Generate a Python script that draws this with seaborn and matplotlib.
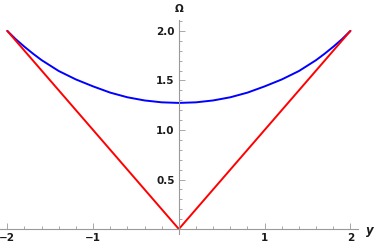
import matplotlib
matplotlib.use("Agg")
import matplotlib.pyplot as plt
from matplotlib.ticker import MultipleLocator, FixedLocator
import seaborn as sns
import pandas as pd

# values
y_vals = [-2.0, -1.9, -1.8, -1.7, -1.6, -1.4, -1.2, -1.0, -0.8, -0.6, -0.4, -0.2, 0.0,
          0.2, 0.4, 0.6, 0.8, 1.0, 1.2, 1.4, 1.6, 1.7, 1.8, 1.9, 2.0]
omega_vals = [2.0, 1.915, 1.84, 1.77, 1.705, 1.595, 1.51, 1.44, 1.377, 1.33, 1.298, 1.279, 1.273,
              1.279, 1.298, 1.33, 1.377, 1.44, 1.51, 1.595, 1.705, 1.77, 1.84, 1.915, 2.0]
abs_y = [-2.0, 0.0, 2.0]
abs_omega = [2.0, 0.0, 2.0]

x_ticks = [-2, -1, 1, 2]
y_ticks = [0.5, 1.0, 1.5, 2.0]

sns.set_theme(style="white")
plt.rcParams['font.family'] = ['DejaVu Sans']

fig = plt.figure(figsize=(3.74, 2.47), dpi=100)
ax = fig.add_axes([0.0, 13.5 / 247, 357.7 / 374, 213.5 / 247])

curve = pd.DataFrame({"y": y_vals, "omega": omega_vals})
vline = pd.DataFrame({"y": abs_y, "omega": abs_omega})
sns.lineplot(data=curve, x="y", y="omega", color=(0, 0, 1), lw=1.4, ax=ax)
sns.lineplot(data=vline, x="y", y="omega", color=(1, 0, 0), lw=1.4, ax=ax)

ax.set_xlim(-2.085, 2.085)
ax.set_ylim(-0.045, 2.11)

# axes through origin, mathematica style
for s in ["top", "right"]:
    ax.spines[s].set_visible(False)
for s in ["left", "bottom"]:
    ax.spines[s].set_position(("data", 0))
    ax.spines[s].set_color("#9a9a9a")
    ax.spines[s].set_linewidth(0.8)

ax.xaxis.set_major_locator(FixedLocator(x_ticks))
ax.yaxis.set_major_locator(FixedLocator(y_ticks))
ax.xaxis.set_minor_locator(MultipleLocator(0.2))
ax.yaxis.set_minor_locator(MultipleLocator(0.1))
ax.set_xticklabels([f"{t:d}".replace("-", "\u2212") for t in x_ticks])
ax.set_yticklabels([f"{t:.1f}" for t in y_ticks])
ax.tick_params(which="both", direction="in", color="#9a9a9a", width=0.6,
               labelsize=7.5, labelcolor="#1a1a1a", bottom=True, left=True)
ax.tick_params(which="major", length=4, pad=3)
ax.tick_params(which="minor", length=2.2)
for lab in ax.get_xticklabels() + ax.get_yticklabels():
    lab.set_fontweight("bold")

ax.set_xlabel("")
ax.set_ylabel("")
ax.grid(False)
fig.text(179 / 374, 1 - 9 / 247, "\u03a9", ha="center", va="center", fontsize=7.5,
         fontweight="bold", color="#1a1a1a")
fig.text(370 / 374, 1 - 230 / 247, "y", ha="center", va="center", fontsize=8.5,
         style="italic", fontweight="bold", color="#1a1a1a")

fig.savefig("out.png", dpi=100)
